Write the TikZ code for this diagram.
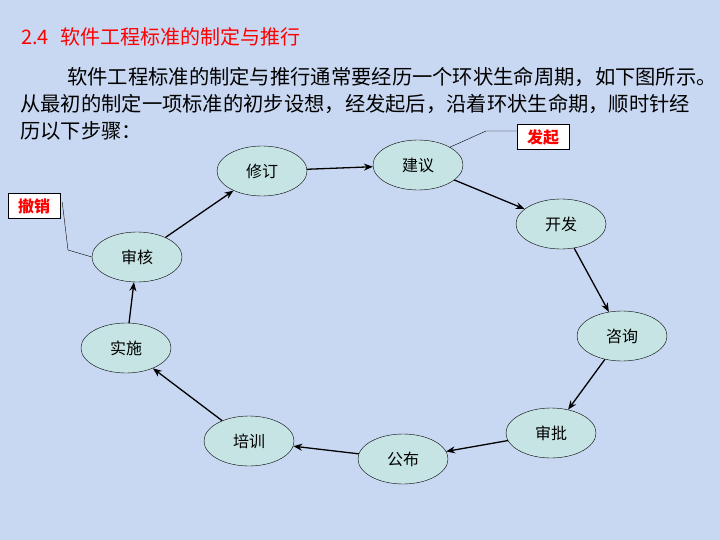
\documentclass[tikz,border=0pt]{standalone}
\usepackage{fontspec}
\setmainfont{Noto Sans CJK SC}
\usetikzlibrary{shapes.geometric,arrows.meta}
\begin{document}
\begin{tikzpicture}[x=1pt,y=-1pt,
  stage/.style={ellipse,draw=black,fill=stagefill,minimum width=90pt,minimum height=50pt,inner sep=0pt,font=\fontsize{16}{16}\selectfont},
  flow/.style={-{Stealth[length=9pt,width=7pt]},line width=1.3pt},
  tag/.style={draw=black,fill=white,text=red,font=\bfseries\fontsize{16}{16}\selectfont,minimum width=52pt,minimum height=25pt,inner sep=1pt},
  lead/.style={line width=0.4pt}]
\definecolor{stagefill}{HTML}{C6E4E4}
\definecolor{bg}{HTML}{C9D8F2}
\fill[bg] (0,0) rectangle (720,540);
\useasboundingbox (0,0) rectangle (720,540);
\node[anchor=west,text=red,inner sep=0pt,font=\fontsize{20}{20}\selectfont] (title) at (21,37) {2.4\hspace{12pt}软件工程标准的制定与推行};
\node[anchor=west,inner sep=0pt,font=\fontsize{20.3}{20}\selectfont] (p1) at (67,77) {软件工程标准的制定与推行通常要经历一个环状生命周期，如下图所示。};
\node[anchor=west,inner sep=0pt,font=\fontsize{20.3}{20}\selectfont] (p2) at (20,104) {从最初的制定一项标准的初步设想，经发起后，沿着环状生命期，顺时针经};
\node[anchor=west,inner sep=0pt,font=\fontsize{20.3}{20}\selectfont] (p3) at (20,131) {历以下步骤：};
\node[stage] (xd) at (262,171) {修订};
\node[stage] (jy) at (418,165) {建议};
\node[stage] (kf) at (561,224) {开发};
\node[stage] (zx) at (622,336) {咨询};
\node[stage] (sp) at (551,433) {审批};
\node[stage] (gb) at (403,459) {公布};
\node[stage] (px) at (249,441) {培训};
\node[stage] (ss) at (126,348) {实施};
\node[stage] (sh) at (137,257) {审核};
\draw[flow] (xd) -- (jy);
\draw[flow] (jy) -- (kf);
\draw[flow] (kf) -- (zx);
\draw[flow] (zx) -- (sp);
\draw[flow] (sp) -- (gb);
\draw[flow] (gb) -- (px);
\draw[flow] (px) -- (ss);
\draw[flow] (ss) -- (sh);
\draw[flow] (sh) -- (xd);
\node[tag] (fq) at (543,137) {发起};
\node[tag] (cx) at (34,206) {撤销};
\coordinate (fqk) at (486,131);
\coordinate (cxk) at (68,250);
\draw[lead] (fq.west |- fqk) -- (fqk) -- (jy.north east);
\draw[lead] (cx.east) ++(2,-4) coordinate (cxs) -- (cxk) -- (sh.west);
\end{tikzpicture}
\end{document}
